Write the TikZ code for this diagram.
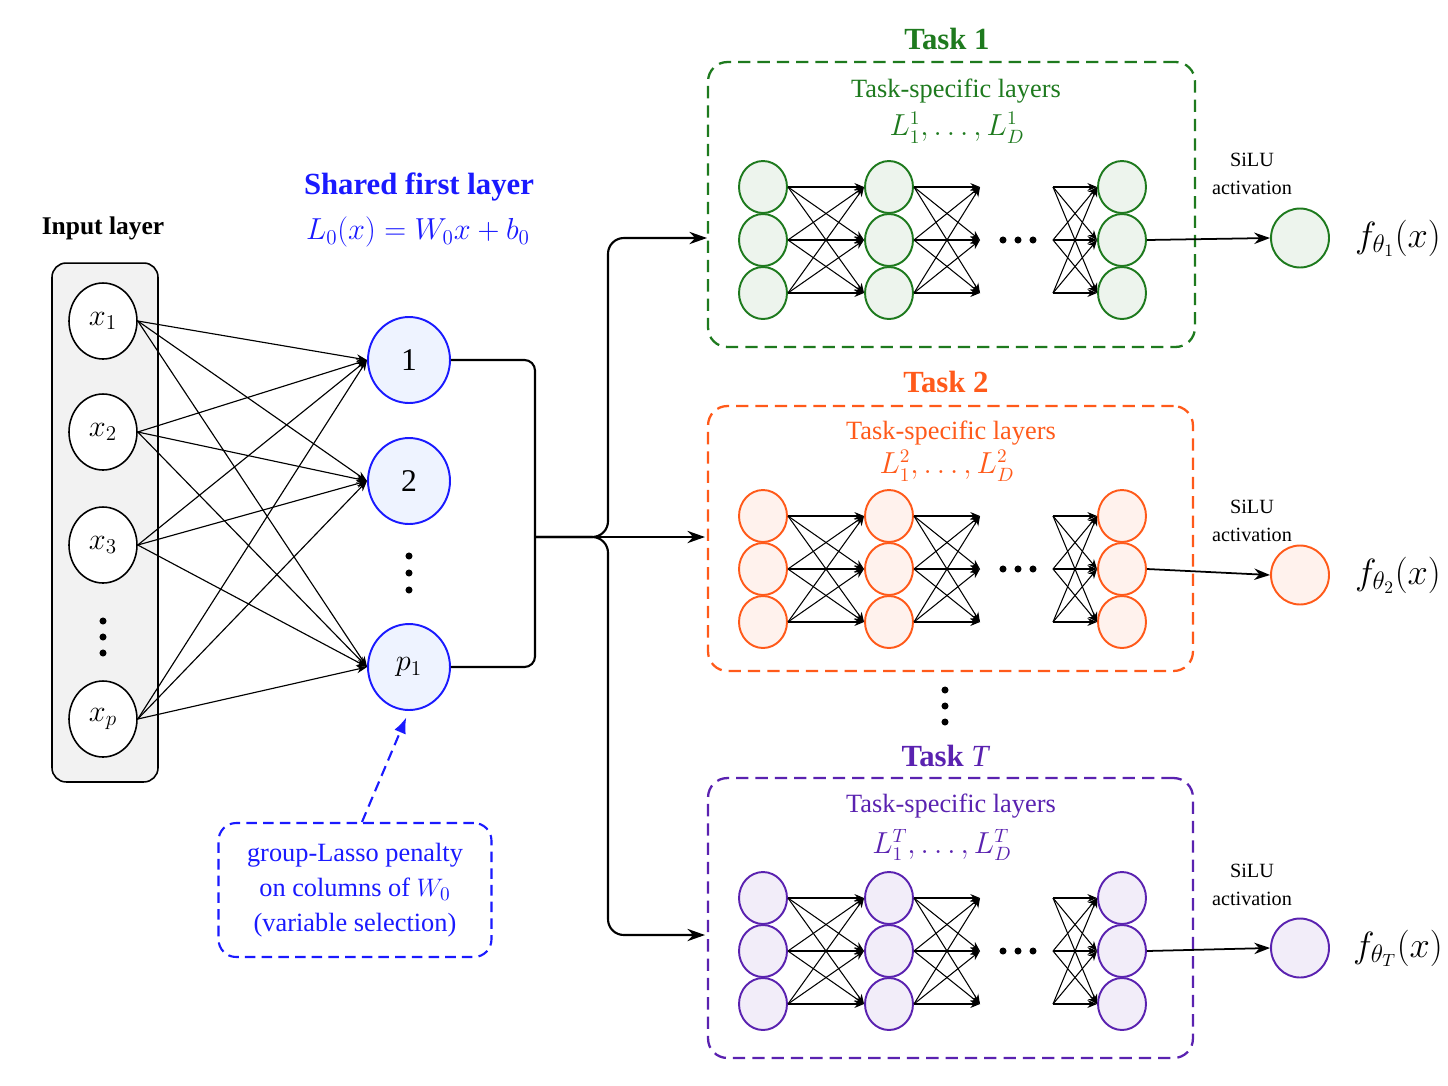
\documentclass[tikz,border=0pt]{standalone}
\usepackage{fontspec}
\setmainfont{Liberation Serif}
\usepackage{xcolor}
\usepackage{tikz}
\usetikzlibrary{positioning, arrows.meta, calc, shapes.geometric}
\definecolor{tgreen}{HTML}{1E7A1E}
\definecolor{torange}{HTML}{FF5A1A}
\definecolor{tpurple}{HTML}{5A22B0}
\definecolor{sblue}{HTML}{1A1AFF}
\definecolor{sbluefill}{HTML}{EEF3FF}
\definecolor{inputgray}{HTML}{F2F2F2}

\tikzset{
  unit/.style={ellipse, draw=#1, fill=#1!8, line width=1.1pt,
               minimum width=0.96cm, minimum height=1.04cm, inner sep=0pt},
  outunit/.style={unit=#1, minimum width=1.16cm, minimum height=1.18cm},
  innode/.style={ellipse, draw=black, fill=white, line width=0.9pt,
                 minimum width=1.36cm, minimum height=1.52cm, inner sep=0pt,
                 font=\fontsize{17}{19}\selectfont},
  shnode/.style={ellipse, draw=sblue, fill=sbluefill, line width=1.1pt,
                 minimum width=1.64cm, minimum height=1.72cm, inner sep=0pt,
                 font=\fontsize{18}{20}\selectfont},
  taskbox/.style={rectangle, draw=#1, dash pattern=on 7pt off 4pt, line width=1.3pt,
                  rounded corners=11pt, inner sep=0pt},
  tasktitle/.style={font=\bfseries\fontsize{17.5}{20}\selectfont, text=#1},
  tasktext/.style={font=\fontsize{15}{18}\selectfont, text=#1},
  link/.style={line width=0.65pt, -{Stealth[length=6pt, width=4.5pt]}},
  thinlink/.style={line width=0.6pt, -{Stealth[length=5.5pt, width=4.5pt]}},
  bus/.style={line width=1.2pt, -{Stealth[length=10pt, width=7pt]}},
  silu/.style={font=\fontsize{11.5}{15.5}\selectfont, align=center},
  flabel/.style={font=\fontsize{19.5}{22}\selectfont},
}

\begin{document}
\begin{tikzpicture}[x=0.02cm, y=-0.02cm]
  \fill[white] (0,0) rectangle (1448,1086);
  \useasboundingbox (0,0) rectangle (1448,1086);

  % input layer
  \node[rectangle, draw=black, fill=inputgray, rounded corners=8pt, line width=0.9pt,
        minimum width=2.12cm, minimum height=10.38cm] (inbox) at (105,522.5) {};
  \node[font=\bfseries\fontsize{14.5}{17}\selectfont] (intitle) at (103,228) {Input layer};
  \node[innode] (x1) at (103,321) {$x_1$};
  \node[innode] (x2) at (103,432) {$x_2$};
  \node[innode] (x3) at (103,545) {$x_3$};
  \node[innode] (xp) at (103,719) {$x_p$};
  \foreach \dy in {621,637,653} \fill (103,\dy) circle (2pt);

  % shared first layer
  \node[tasktitle=sblue] (shtitle) at (419,187) {Shared first layer};
  \node[tasktext=sblue, font=\fontsize{16.5}{18}\selectfont] (shform) at (418,232) {$L_0(x) = W_0x + b_0$};
  \node[shnode] (sh1) at (409,360) {1};
  \node[shnode] (sh2) at (409,481) {2};
  \node[shnode] (shp) at (409,667) {$p_1$};
  \foreach \dy in {556,573,590} \fill (409,\dy) circle (2pt);

  \foreach \i in {1,2,3,p}
    \foreach \j in {1,2,p}
      \draw[link] (x\i.east) -- (sh\j.west);

  % group lasso note
  \node[rectangle, draw=sblue, text=sblue, dash pattern=on 6pt off 3.5pt, line width=1.2pt,
        rounded corners=10pt, align=center, font=\fontsize{15}{20}\selectfont,
        minimum width=5.46cm, minimum height=2.68cm] (lasso) at (355,890)
        {group-Lasso penalty\\on columns of $W_0$\\(variable selection)};
  \draw[sblue, line width=1.2pt, dash pattern=on 6pt off 3.5pt, shorten >=4pt,
        -{Latex[length=9pt, width=7pt]}] ($(lasso.north)+(7,0)$) -- (shp.south);

  % task boxes
  \node[taskbox=tgreen, minimum width=9.74cm, minimum height=5.70cm] (box1) at (951.5,204.5) {};
  \node[tasktitle=tgreen] (title1) at (947,39) {Task 1};
  \node[tasktext=tgreen] (text1) at (956,91) {Task-specific layers};
  \node[tasktext=tgreen, font=\fontsize{16}{18}\selectfont] (layers1) at (957,128) {$L_1^1,\dots,L_D^1$};

  \node[taskbox=torange, minimum width=9.70cm, minimum height=5.30cm] (box2) at (950.5,538.5) {};
  \node[tasktitle=torange] (title2) at (946,382) {Task 2};
  \node[tasktext=torange] (text2) at (951,433) {Task-specific layers};
  \node[tasktext=torange, font=\fontsize{16}{18}\selectfont] (layers2) at (947,466) {$L_1^2,\dots,L_D^2$};

  \node[taskbox=tpurple, minimum width=9.70cm, minimum height=5.60cm] (boxT) at (950.5,918) {};
  \node[tasktitle=tpurple] (titleT) at (945,756) {Task {\mdseries\itshape T}};
  \node[tasktext=tpurple] (textT) at (951,806) {Task-specific layers};
  \node[tasktext=tpurple, font=\fontsize{16}{18}\selectfont] (layersT) at (942,845) {$L_1^T,\dots,L_D^T$};

  \foreach \dy in {690,706,722} \fill (945,\dy) circle (2pt);

  % bus from shared layer to the tasks
  \coordinate (merge) at (535,537);
  \coordinate (split) at (608,537);
  \coordinate (entry1) at (707,238);
  \coordinate (entry2) at (705,537);
  \coordinate (entryT) at (705,935);
  \draw[line width=1.2pt, rounded corners=6pt] (sh1.east) -| (merge) |- (shp.east);
  \draw[bus] (merge) -- (entry2);
  \draw[bus, rounded corners=9pt] (merge) -| (split |- entry1) -- (entry1);
  \draw[bus, rounded corners=9pt] (merge) -| (split |- entryT) -- (entryT);

  % task-specific networks
  \foreach \k/\yc/\yo/\ys/\cl in {1/240/238/174/tgreen, 2/569/575/521/torange, T/951/948/885/tpurple}{
    \foreach \i in {1,2,3}{
      \node[unit=\cl] (a\k\i) at (763,{\yc+53*\i-106}) {};
      \node[unit=\cl] (b\k\i) at (889,{\yc+53*\i-106}) {};
      \node[unit=\cl] (c\k\i) at (1122,{\yc+53*\i-106}) {};
      \coordinate (end\k\i) at (980,{\yc+53*\i-106});
      \coordinate (start\k\i) at (1053,{\yc+53*\i-106});
    }
    \foreach \i in {1,2,3}
      \foreach \j in {1,2,3}{
        \draw[thinlink] (a\k\i.east) -- (b\k\j.west);
        \draw[thinlink] (b\k\i.east) -- (end\k\j);
        \draw[thinlink] (start\k\i) -- (c\k\j.west);
      }
    \foreach \dx in {0,15,30} \fill ({1003+\dx},\yc) circle (2pt);
    \node[outunit=\cl] (o\k) at (1300,\yo) {};
    \draw[line width=1pt, -{Stealth[length=9pt, width=6.5pt]}] (c\k2.east) -- (o\k.west);
    \node[silu] (silu\k) at (1252,\ys) {SiLU\\activation};
    \node[flabel] (f\k) at (1398,\yo) {$f_{\theta_\k}(x)$};
  }
\end{tikzpicture}
\end{document}
